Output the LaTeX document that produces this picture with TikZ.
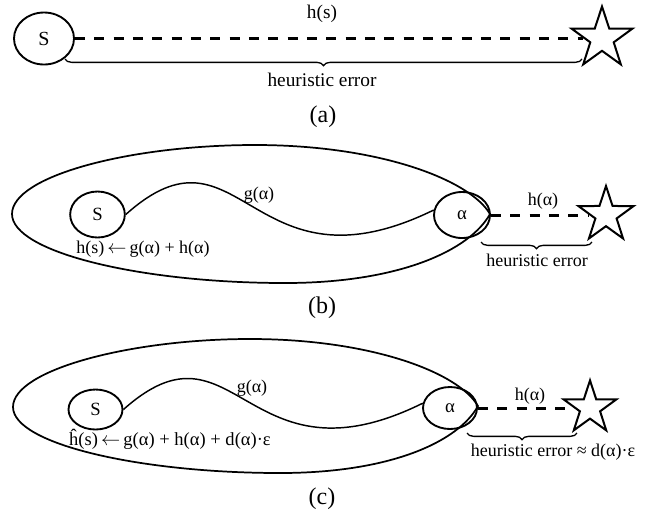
\documentclass[tikz,border=0pt]{standalone}
\usepackage{fontspec}
\setmainfont{Liberation Serif}
\usetikzlibrary{shapes.geometric,decorations.pathreplacing}
\tikzset{
  state/.style={draw,ellipse,line width=1.4pt,inner sep=0pt,font=\fontsize{14}{16}\selectfont},
  goal/.style={draw,star,star points=5,star point ratio=2.6,fill=white,line width=1.5pt,inner sep=0pt},
  hline/.style={line width=2.25pt,dash pattern=on 7.5pt off 7pt},
  err/.style={decorate,decoration={brace,mirror,amplitude=5pt},line width=1pt},
  lab/.style={font=\fontsize{13.5}{16}\selectfont},
  capt/.style={font=\fontsize{18}{20}\selectfont}
}
\begin{document}
\begin{tikzpicture}[x=0.75pt,y=-0.75pt]
  \useasboundingbox (0,0) rectangle (649,512);

  % (a)
  \node[state,minimum width=45pt,minimum height=39pt,font=\fontsize{15}{17}\selectfont] (Sa) at (44,38.5) {S};
  \node[goal,minimum size=48pt] (Ga) at (602,38.5) {};
  \draw[hline] (Sa.east) -- (Ga.180);
  \coordinate (ea1) at (65,59);
  \coordinate (ea2) at (582,59);
  \draw[err] (ea1) -- (ea2);
  \node[lab,font=\fontsize{14.5}{17}\selectfont] (ha) at (322,14) {h(s)};
  \node[lab,font=\fontsize{14.5}{17}\selectfont] (hea) at (322,80) {heuristic error};
  \node[capt] (capa) at (323,117) {(a)};

  % (b)
  \draw[line width=1.3pt] (12,214) .. controls (12,176) and (130,145) .. (255,145)
    .. controls (380,145) and (470,180) .. (490,214)
    .. controls (470,250) and (400,283) .. (285,283)
    .. controls (140,283) and (12,252) .. (12,214) -- cycle;
  \node[state,minimum width=41pt,minimum height=34.5pt] (Sb) at (97.5,214.5) {S};
  \node[state,minimum width=42pt,minimum height=34.5pt] (Ab) at (462,215) {α};
  \node[goal,minimum size=43.5pt] (Gb) at (606,215) {};
  \draw[line width=1.1pt] (Sb.east) .. controls +(115,-103) and +(-184,90) .. (Ab.170);
  \draw[hline] (Ab.east) -- (Gb.180);
  \coordinate (eb1) at (481,242);
  \coordinate (eb2) at (592,242);
  \draw[err] (eb1) -- (eb2);
  \node[lab] (gb) at (259,195) {g(α)};
  \node[lab] (hb) at (543,201) {h(α)};
  \node[lab] (upb) at (143,249) {h(s)\,\(\leftarrow\)\,g(α) + h(α)};
  \node[lab] (heb) at (537,260) {heuristic error};
  \node[capt] (capb) at (322,308) {(b)};

  % (c)
  \draw[line width=1.3pt] (13,407) .. controls (13,370) and (130,339) .. (250,339)
    .. controls (370,339) and (458,372) .. (478,406)
    .. controls (458,442) and (390,473) .. (280,473)
    .. controls (140,473) and (13,444) .. (13,407) -- cycle;
  \node[state,minimum width=40.5pt,minimum height=30pt] (Sc) at (95.5,409.5) {S};
  \node[state,minimum width=40.5pt,minimum height=31.5pt] (Ac) at (450,408) {α};
  \node[goal,minimum size=41.4pt] (Gc) at (590,408) {};
  \draw[line width=1.1pt] (Sc.east) .. controls +(112,-100) and +(-178,88) .. (Ac.170);
  \draw[hline] (Ac.east) -- (Gc.180);
  \coordinate (ec1) at (467,433);
  \coordinate (ec2) at (577,433);
  \draw[err] (ec1) -- (ec2);
  \node[lab] (gc) at (252,388) {g(α)};
  \node[lab] (hc) at (530,396) {h(α)};
  \node[lab,font=\fontsize{13.9}{16}\selectfont] (upc) at (170,439) {ĥ(s)\,\(\leftarrow\)\,g(α) + h(α) + d(α)·ε};
  \node[lab] (hec) at (553,452) {heuristic error ≈ d(α)·ε};
  \node[capt] (capc) at (322,499) {(c)};
\end{tikzpicture}
\end{document}
